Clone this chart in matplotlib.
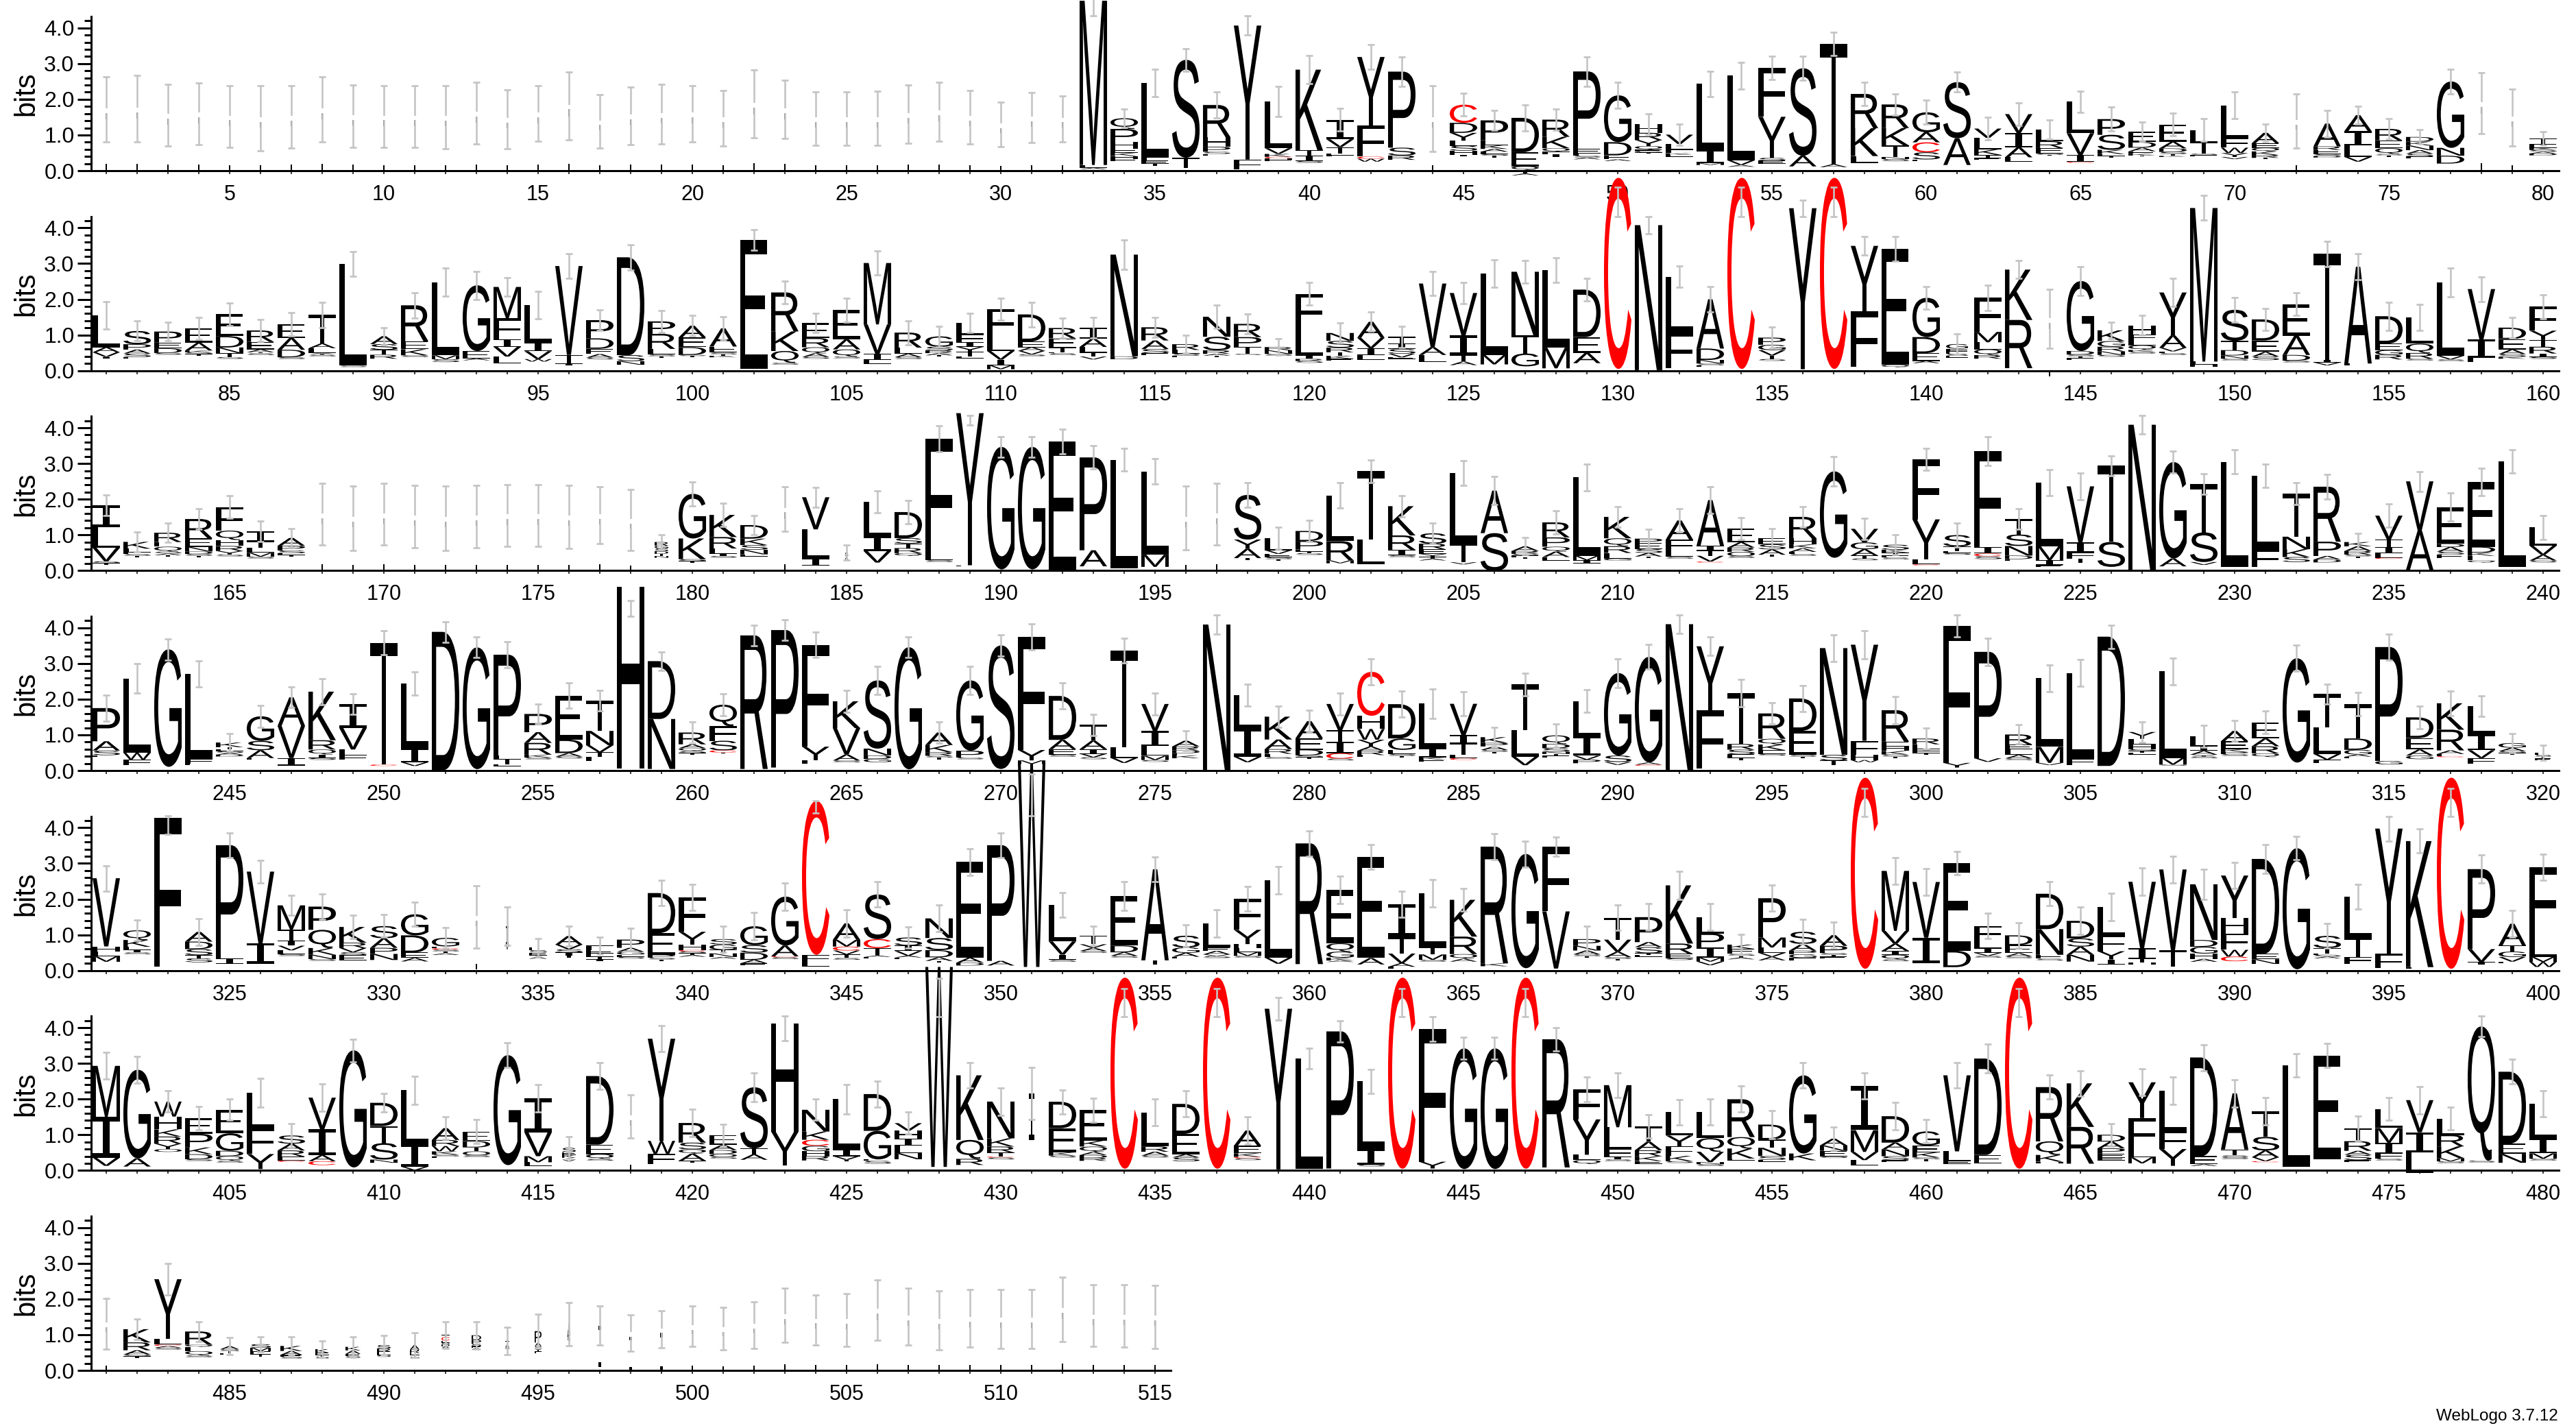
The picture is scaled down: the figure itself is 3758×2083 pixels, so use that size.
import matplotlib
matplotlib.use("Agg")
import matplotlib.pyplot as plt
from matplotlib.font_manager import FontProperties
from matplotlib.patches import PathPatch
from matplotlib.textpath import TextPath
from matplotlib.transforms import Affine2D

plt.rcParams["font.family"] = ["Liberation Sans", "DejaVu Sans"]

# ---------- data: letters top-down and their heights in bits, error-bar ends ----------
row1_letters = ["I"]*32 + [
 "MLA","QPHEKHE","LFET","ST","RHPSE","YF","LVKCHE","KTIS",
 "IVTEL","YFCW","PSR","I","CDYLSHI","PEKALST","DEQSTA","RKQFI","PEFSA","GDEA",
 "HRYQEST","VLFKE","LIM","LVA","FYSE","SA","TA","RKL","RKTNS","GACSE",
 "SA","VLKTE","VIAL","LREST","LVIC","PSKET","EDAEKT","EADSTK","LTSE","LFWYV",
 "AEQKRT","I","ARESD","AILV","REQST","DKNASE","GND","I","I","TEKSAD"]
row1_bits = [[1.62],[1.64],[1.45],[1.5],[1.42],[1.37],[1.4],[1.62],[1.42],[1.42],
 [1.42],[1.4],[1.51],[1.34],[1.5],[1.72],[1.28],[1.44],[1.48],[1.5],
 [1.37],[1.77],[1.62],[1.36],[1.36],[1.37],[1.48],[1.55],[1.4],[1.2],
 [1.39],[1.35],[4.6,.08,.04],[.30,.37,.18,.12,.09,.08,.07],[2.08,.1,.08,.06],[2.74,.29],[.9,.27,.14,.06,.05],[3.75,.28],[1.31,.16,.08,.04,.05,.03],[2.26,.15,.15,.05],
 [.55,.22,.18,.05,.03],[1.92,.87,.06,.08],[2.13,.22,.12],[1.36],[.51,.28,.22,.14,.14,.11,.05],[.56,.13,.11,.08,.06,.05,.05],[.96,.40,.1,.05,.05,.05],[.48,.32,.1,.06,.09],[2.17,.13,.06,.05,.05],[1.31,.37,.11,.05],
 [.24,.2,.17,.1,.05,.03,.03],[.26,.16,.1,.05,.05],[1.85,.37,.05],[2.37,.13,.05],[1.37,1.15,.08,.08],[2.45,.3],[3.37,.08],[.96,.78,.19],[.66,.49,.32,.06,.06],[.56,.28,.28,.2,.05],
 [1.57,.75],[.26,.32,.16,.08,.05],[.53,.4,.28,.13],[.33,.19,.15,.04,.03],[.88,.61,.19,.03],[.44,.42,.12,.05,.05],[.29,.16,.1,.07,.05,.03],[.48,.19,.1,.06,.05,.03],[.34,.32,.04,.04],[.92,.26,.15,.11,.06],
 [.29,.13,.1,.1,.08,.04],[1.29],[.64,.1,.12,.05,.04],[.45,.4,.32,.13],[.32,.22,.16,.04,.04],[.13,.11,.13,.1,.08,.05],[1.86,.22,.22],[1.79],[1.39],[.16,.1,.06,.05,.05,.05]]
row1_err_hi = [2.63,2.67,2.42,2.46,2.38,2.38,2.38,2.63,2.40,2.38,2.38,2.38,2.48,2.27,2.38,2.77,2.13,2.35,2.42,2.38,
 2.25,2.83,2.54,2.21,2.21,2.23,2.40,2.48,2.25,1.92,2.19,2.10,5.2,1.73,2.85,3.42,2.21,4.33,2.37,3.22,
 1.75,3.53,3.18,2.39,2.17,1.69,1.85,1.72,3.19,2.47,1.59,1.3,2.79,3.03,3.2,3.2,3.88,2.47,2.15,1.97,
 2.76,1.49,1.9,1.43,2.23,1.78,1.37,1.61,1.45,2.2,1.31,2.15,1.69,1.81,1.46,1.15,2.85,2.74,2.29,1.09]
row1_err_lo = [.81,.81,.69,.73,.65,.56,.63,.81,.65,.65,.65,.62,.75,.62,.83,.87,.63,.73,.75,.81,
 .69,.92,.90,.71,.71,.71,.77,.83,.75,.67,.79,.81,4.33,1.21,2.07,2.79,1.47,3.80,1.51,2.44,
 1.11,2.84,2.37,.53,1.53,1.13,1.11,1.14,2.37,1.75,1.01,.72,2.07,2.29,2.56,2.54,3.22,1.83,1.56,1.3,
 2.2,.87,1.27,.88,1.63,1.11,.82,.98,.82,1.45,.81,.63,.95,1.3,.88,.74,2.15,1.04,.69,.71]

row2_letters = ["LAVI","SPASE","PEDS","EAKST","EDNTS","REATS","EADS","TALYS","LS","ASTR",
 "REKS","LMS","GEA","MFIVL","LIVW","VTI","PDEAS","DSN","PRLST","AEDST",
 "AESTK","E","RKQS","ERQAS","EAQS","MVIL","RLAS","GSRAT","LFIYTL","FLVIM",
 "DEAVS","RETLS","IALTV","ND","RASE","RLSE","NSRAT","RPTS","RNS","FLIRS",
 "NSRTKE","AVIL","TISVE","VAL","VITA","LM","NTG","LM","DEA","C",
 "N","LF","ADNSE","C","PGVTS","Y","C","YF","EQ","GDEA",
 "GFESE","FMLQR","KR","I","GDSTE","KGRNS","HFLQKS","YAVFS","MLH","STDNS",
 "DEAS","EADS","TIV","AL","DEGR","LQRS","LVS","VIL","DEASK","FYTRIS"]
row2_bits = [[.9,.14,.13,.05],[.37,.15,.11,.1,.05],[.31,.16,.13,.05],[.4,.22,.05,.05,.05],[.61,.32,.16,.11,.05],[.32,.21,.08,.03,.05],[.38,.33,.21,.05],[.8,.13,.13,.05,.05],[2.85,.04],[.22,.16,.14,.11],
 [1.01,.22,.17,.05],[2.05,.11,.08],[1.84,.21,.05],[.88,.58,.22,.27,.19],[1.06,.24,.22,.07],[2.49,.24,.05],[.51,.29,.15,.1,.05],[2.74,.17,.1],[.35,.42,.16,.05,.05],[.33,.27,.22,.03,.03],
 [.51,.17,.05,.04,.04],[3.6],[1.09,.55,.33,.05],[.42,.26,.17,.1,.05],[.82,.28,.2,.05],[1.72,.83,.17,.11],[.42,.17,.1,.05],[.29,.1,.08,.06,.03],[.32,.22,.13,.14,.13,.05],[.76,.41,.24,.16,.11],
 [.76,.16,.1,.1,.05],[.29,.26,.13,.03,.05],[.3,.24,.16,.11,.08],[2.85,.08],[.37,.24,.12,.05],[.16,.1,.06,.05],[.56,.38,.1,.05,.05],[.37,.28,.19,.03],[.09,.1,.05],[.98,.74,.1,.06,.05],
 [.22,.19,.13,.1,.08,.05],[.45,.29,.19,.14],[.19,.15,.13,.1,.05],[1.78,.22,.19],[1.19,.54,.19,.1],[2.28,.26],[1.78,.51,.36],[2.18,.58],[1.33,.44,.29],[5.35],
 [4.06],[1.57,.98],[1.38,.32,.1,.05,.05],[5.35],[.2,.15,.15,.1,.05],[4.51],[5.35],[1.84,1.55],[3.25,.07],[1.1,.45,.22,.06],
 [.13,.07,.07,.06,.05],[.96,.29,.2,.16,.1],[1.41,1.35],[1.5],[1.96,.1,.05,.05,.05],[.3,.16,.13,.1,.05],[.26,.16,.14,.13,.05,.05],[1.2,.35,.1,.05,.05],[4.3,.08,.06],[.87,.26,.15,.09,.05],
 [.59,.32,.13,.1],[.88,.54,.16,.05],[2.96,.08,.08],[2.71,.05],[.77,.18,.13,.13],[.74,.26,.16,.05],[2.05,.1,.05],[1.41,.51,.13],[.32,.29,.13,.08,.05],[.67,.26,.19,.19,.1,.05]]
row2_err_hi = [1.94,1.39,1.36,1.49,1.9,1.44,1.62,1.92,3.33,1.21,2.19,2.88,2.78,2.61,2.23,3.28,1.71,3.53,1.69,1.55,
 1.51,3.94,2.5,1.6,2.03,3.35,1.4,1.25,1.6,2.02,1.92,1.48,1.49,3.67,1.49,.99,1.84,1.58,.89,2.47,
 1.33,1.64,1.24,2.78,2.48,3.1,3.08,3.17,2.59,5.14,4.32,2.93,2.35,5.14,1.23,4.78,5.14,3.76,3.76,2.35,
 1.03,2.4,3.08,2.27,2.92,1.36,1.54,2.58,4.9,2.05,1.74,2.18,3.63,3.27,1.92,1.86,2.87,2.63,1.5,2.12]
row2_err_lo = [1.17,.83,.83,.88,1.26,.81,.97,1.2,2.65,.72,1.47,2.08,2.0,2.08,1.46,2.58,1.12,2.82,1.07,.97,
 .86,3.38,1.88,1.07,1.36,2.68,.73,.67,1.07,1.42,1.23,.91,.92,2.83,.94,.49,1.18,1.04,.43,1.83,
 .78,1.1,.65,2.1,1.87,2.33,2.46,2.48,1.95,4.32,3.83,2.33,1.65,4.32,.62,4.32,4.32,3.23,3.07,1.73,
 .46,1.69,2.58,.62,2.1,.9,1.0,1.8,4.21,1.36,1.13,1.54,2.91,2.55,1.13,1.13,2.06,1.94,.91,1.46]

row3_letters = ["ILVST","KLEST","REQSAT","RENDST","FQHRYS","ITLMS","APSET","I","I","I",
 "I","I","I","I","I","I","I","I","RGSDTN","GKST",
 "KRLIS","DKSNE","I","VLI","SA","LIV","DSTRQ","FLS","YE","G",
 "G","E","PA","L","LM","I","I","SYAT","LVEST","DPETS",
 "LRM","TL","KRIS","SREYTA","LTV","AS","ARSET","RPQAE","LMI","KQRLG",
 "PESAT","AFLS","AITVC","EAROS","ESAT","RHKALS","G","VGATS","SKTES","FYLC",
 "STES","FICS","TSNDE","LMIE","VIFT","TS","N","GA","TSV","L",
 "LF","TNKS","RPAD","KARST","VTILC","VA","EDASE","EDKEQ","L","LVAS"]
row3_bits = [[.61,.58,.38,.05,.05],[.19,.1,.05,.05,.05],[.26,.13,.14,.05,.05,.04],[.54,.24,.13,.07,.05,.05],[.66,.26,.17,.14,.1,.05],[.28,.18,.14,.11,.05],[.22,.13,.08,.05,.05],[1.47],[1.37],[1.47],
 [1.42],[1.37],[1.42],[1.44],[1.44],[1.4],[1.45],[1.32],[.1,.08,.08,.07,.06,.05],[1.25,.58,.05,.05],
 [.62,.32,.15,.06,.05],[.38,.18,.13,.13,.06],[1.63],[.9,.82,.19],[.1,.1],[.96,.42,.32],[.73,.15,.13,.14,.08],[3.27,.13,.05],[4.26,.03],[3.43],
 [3.43],[3.63],[2.6,.45],[3.04],[2.33,.34],[1.37],[1.47],[1.25,.26,.26,.05],[.34,.1,.1,.05,.05],[.28,.24,.05,.05,.05],
 [1.28,.54,.08],[1.91,.69],[.82,.4,.16,.05],[.29,.16,.13,.08,.05,.05],[1.97,.53,.06],[1.19,1.06],[.13,.08,.05,.05,.03],[.42,.26,.14,.15,.1],[2.2,.12,.09],[.6,.22,.19,.16,.05],
 [.13,.16,.11,.1,.05],[.54,.32,.16,.05],[1.28,.13,.15,.16,.03],[.38,.15,.12,.12,.05],[.17,.14,.15,.05],[.6,.17,.11,.1,.06,.05],[2.42],[.38,.19,.18,.08,.05],[.14,.08,.08,.06,.05],[1.68,1.12,.14,.03],
 [.32,.13,.05,.05],[2.7,.17,.08,.08],[.43,.32,.27,.1,.05],[1.78,.4,.13,.05],[1.57,.28,.17,.12],[2.13,.7],[4.09],[2.7,.22],[1.35,.83,.08],[2.94],
 [2.07,.48],[1.21,.35,.22,.14],[1.54,.4,.1,.08],[.12,.13,.1,.05,.05],[.67,.22,.16,.13,.03],[1.38,1.1],[1.03,.09,.13,.08,.1],[1.81,.16,.09,.13,.06],[2.95],[.51,.26,.16,.05]]
row3_err_hi = [2.12,1.08,1.33,1.74,2.1,1.38,1.17,2.44,2.37,2.44,2.39,2.37,2.39,2.41,2.41,2.39,2.35,2.28,1.0,2.49,
 1.88,1.54,2.35,2.33,.72,2.23,1.96,4.06,4.35,3.75,3.75,3.96,3.5,3.42,3.13,2.37,2.44,2.47,1.22,1.4,
 2.46,3.1,2.1,1.33,3.08,2.63,.92,1.67,2.99,1.8,1.15,1.73,2.35,1.48,1.17,1.8,3.19,1.46,1.01,3.42,
 1.33,3.75,1.73,2.83,2.73,3.22,4.35,3.34,2.71,3.38,2.98,2.47,2.69,1.04,1.87,2.78,2.18,2.86,3.38,1.54]
row3_err_lo = [1.54,.53,.79,1.15,1.46,.82,.66,.71,.56,.71,.64,.56,.64,.68,.68,.62,.76,.56,.6,1.81,
 1.24,1.01,1.11,1.78,.29,1.62,1.32,3.32,4.08,3.18,3.18,3.27,2.84,2.79,2.42,.58,.71,1.77,.6,.82,
 1.75,2.47,1.51,.76,2.39,1.85,.44,1.03,2.23,1.21,.64,1.08,1.6,.87,.64,1.21,2.37,.88,.44,2.81,
 .66,2.95,1.15,2.1,1.99,2.65,3.82,2.74,2.13,2.71,2.33,1.85,2.01,.56,1.21,2.22,1.38,2.09,2.74,.88]

row4_letters = ["PASE","LWF","G","LFE","KTESAD","GSAE","AVI","KRQIS","IVLF","TC",
 "LIV","D","G","PLTE","PARKS","EDAS","TNVTL","H","DN","RAQST",
 "QFSCT","R","P","FYL","KVAS","SNDG","G","AKRST","GPS","S",
 "FYM","DAES","TAIVS","TLV","VILMS","ARDEK","N","LIV","KARLS","AEDST",
 "VTICS","CHWYARL","DGEST","LIKE","VITLC","KPAST","TLV","QDSNTE","LIVP","GSV",
 "GAC","N","YF","TRSET","RQKES","DEST","NST","YFHW","REHKST","REEET",
 "FY","PV","RELAS","LMV","LF","D","YLHSTE","LMS","LIAYS","AEKPS",
 "EARQ","G","TLVF","TDGAE","PG","DEAG","KRAEC","LIVF","GAST","LSTE"]
row4_bits = [[.93,.26,.13,.05],[2.08,.19,.16],[3.29],[2.39,.12,.05],[.13,.06,.05,.05,.05,.05],[.69,.26,.22,.05],[.8,.9,.21],[1.36,.26,.14,.1,.05],[.67,.6,.16,.13],[3.41,.04],
 [1.81,.4,.1],[3.87],[3.41],[2.83,.1,.14,.05],[.51,.3,.33,.08,.05],[1.23,.38,.1,.05],[.85,.4,.2,.13,.12],[5.1],[1.62,1.4],[.33,.11,.08,.05,.05],
 [.6,.41,.27,.06,.03],[3.74],[3.85],[2.85,.38,.1],[.75,.74,.17,.05],[1.91,.19,.1,.09],[3.42],[.35,.2,.1,.05,.05],[1.97,.19,.05],[3.46],
 [3.17,.29,.1],[1.23,.26,.16,.05],[.44,.24,.13,.1,.05],[2.71,.3,.14],[.76,.42,.27,.12,.05],[.16,.11,.08,.06,.08],[4.09],[.93,.8,.15],[.64,.27,.13,.09,.05],[.48,.32,.16,.05,.05],
 [.74,.32,.32,.15,.05],[1.23,.37,.3,.19,.12,.12,.05],[.96,.32,.12,.05,.05],[1.25,.26,.06,.06],[.88,.22,.32,.1,.05],[.16,.1,.1,.05,.05],[1.28,.74,.24],[.24,.12,.1,.06,.05,.05],[.99,.54,.11,.1],[2.31,.18,.08],
 [2.96,.06,.03],[4.09],[1.79,1.63],[1.42,.16,.13,.11,.05],[.71,.16,.16,.1,.05],[.91,.67,.05,.05],[2.99,.16,.12],[2.69,.4,.14,.06],[.88,.13,.13,.1,.06,.05],[.16,.13,.06,.06,.05],
 [3.83,.13],[2.98,.1],[.28,.13,.16,.1,.05],[1.92,.45,.06],[2.4,.19],[3.62],[.19,.16,.13,.05,.05,.05],[2.42,.19,.03],[.28,.13,.11,.05,.05],[.29,.22,.08,.06,.05],
 [.45,.22,.2,.1],[2.92],[.93,.75,.16,.1],[.96,.32,.13,.06,.05],[3.19,.1],[.58,.32,.17,.1],[.74,.58,.1,.06,.03],[.78,.45,.22,.16],[.13,.1,.05,.05],[.06,.05,.05,.05]]
row4_err_hi = [2.12,2.99,3.69,3.08,1.04,1.83,2.34,2.57,2.15,3.92,2.76,4.17,3.74,3.61,1.86,2.46,2.25,4.77,3.32,1.37,
 2.15,4.08,4.23,3.88,2.25,2.92,3.75,1.37,2.92,3.8,4.11,2.46,1.58,3.71,2.17,1.11,4.35,2.42,1.81,1.69,
 2.17,3.13,2.23,2.29,2.21,1.21,2.72,1.31,2.26,3.13,3.53,4.35,3.74,2.55,1.9,2.39,3.8,3.92,2.08,1.19,
 4.35,3.71,1.28,2.96,3.11,4.08,1.37,3.15,1.27,1.4,1.67,3.51,2.42,2.19,3.82,1.81,2.23,2.09,1.04,.72]
row4_err_lo = [1.38,2.17,3.1,2.34,.53,1.21,1.76,1.85,1.57,3.24,2.12,3.6,3.16,2.88,1.31,1.74,1.67,4.33,2.81,.76,
 1.54,3.49,3.64,3.16,1.63,2.13,3.16,.76,2.13,3.21,3.38,1.72,.98,3.02,1.56,.56,3.83,1.81,1.21,1.08,
 1.56,2.4,1.49,1.46,1.53,.66,2.1,.66,1.63,2.33,2.84,3.85,3.22,1.78,1.3,1.65,3.06,3.13,1.3,.6,
 3.74,2.94,.74,2.21,2.36,3.42,.79,2.4,.66,.82,1.03,2.78,1.87,1.53,3.1,1.17,1.54,1.51,.5,.28]

row5_letters = ["VHLM","QKLIS","F","ADSTS","PI","VI","MTIVLS","PQKNS","KRVSE","SAPN",
 "GDEA","GECSTA","I","IV","ESETA","AVSIT","FEETI","PAGES","DEPST","FYHCSTA",
 "SGTNA","GSDAE","GACS","CFL","AMCVTS","SCTAE","SIVAE","NSDAT","EAD","PA",
 "W","LVIS","TVAS","EDAS","AT","SGAE","LEAVS","FYHLMS","LV","R",
 "EQGKA","EA","ITVAL","LTMS","KRQA","RK","G","FV","PNAST","TVAST",
 "PASTE","KRES","LPIMV","KESTA","PMLVA","SAPGE","APSTE","C","MVAIQS","VI",
 "ED","FLIVS","DEAS","DNES","DSAN","LFYI","VITH","VT","NDGHA","YHFWC",
 "DEN","G","STESA","LTF","YF","KL","C","PVI","ATGVE","FLMW"]
row5_bits = [[1.91,.15,.13,.15],[.27,.19,.08,.08,.05],[4.18],[.27,.21,.17,.09,.11],[3.18,.14],[2.01,.57],[.68,.3,.15,.13,.11,.05],[.65,.51,.19,.12,.05],[.44,.15,.12,.08,.15],[.34,.27,.17,.17],
 [.59,.48,.15,.1],[.24,.05,.04,.05,.05,.05],[1.37],[.5,.15],[.08,.07,.07,.05,.05],[.24,.13,.09,.09,.05],[.12,.1,.08,.08,.05],[.23,.11,.08,.06,.05],[1.12,.61,.08,.05,.05],[.97,.36,.15,.04,.05,.05,.05],
 [.15,.15,.1,.1,.05],[.53,.21,.2,.1,.05],[1.37,.3,.03,.05],[4.31,.2,.13],[.46,.19,.11,.11,.1,.05],[1.25,.25,.21,.04,.04],[.23,.15,.13,.05,.05],[.55,.34,.2,.1,.05],[2.68,.14,.08],[3.24,.13],
 [5.7],[1.03,.37,.15,.05],[.24,.1,.09,.05],[1.39,.19,.1,.05],[2.55,.11],[.33,.15,.11,.05],[.68,.09,.1,.05,.05],[.87,.4,.11,.11,.11,.05],[2.17,.17],[3.38],
 [1.5,.23,.17,.08,.04],[2.83,.18],[.93,.46,.27,.1,.05],[1.5,.21,.15,.05],[1.03,.49,.13,.08],[3.27,.08],[3.2],[1.81,1.6],[.19,.13,.11,.05,.05],[.61,.34,.15,.05,.05],
 [.7,.14,.17,.05,.05],[1.63,.29,.12,.05],[.46,.4,.28,.11,.1],[.12,.14,.05,.05,.05],[1.1,.28,.15,.11,.1],[.34,.19,.1,.1,.08],[.3,.2,.05,.05,.05],[5.35],[1.68,.36,.2,.11,.13,.05],[1.56,.71],
 [2.45,.46],[.43,.19,.14,.08,.05],[.27,.23,.09,.05],[.99,.72,.11,.05],[.49,.23,.23,.19],[.8,.44,.23,.15],[1.86,.3,.11,.05],[2.26,.46],[1.56,.19,.19,.15,.08],[1.19,.43,.46,.19,.13],
 [2.66,.15,.13],[3.39],[.34,.15,.04,.05,.05],[1.16,.53,.19],[3.51,.4],[3.53,.05],[5.35],[2.24,.36,.08],[.61,.17,.15,.13,.05],[1.92,.59,.14,.14]]
row5_err_hi = [2.94,1.41,4.33,1.45,3.86,3.09,2.11,2.15,1.54,1.56,1.91,1.2,2.38,1.77,.9,1.24,.93,1.18,2.53,2.42,
 1.24,1.62,2.45,4.75,1.71,2.49,1.22,1.83,3.42,3.86,5.5,2.19,1.24,2.49,3.18,1.28,1.71,2.36,2.91,3.92,
 2.64,3.53,2.23,2.55,2.3,3.84,3.63,3.73,1.24,1.83,1.87,2.77,1.88,1.01,2.39,1.43,1.35,5.11,3.16,2.85,
 3.33,1.6,1.34,2.49,1.77,2.17,2.87,3.21,2.83,3.02,3.53,3.75,1.31,2.42,4.32,3.96,5.11,3.23,1.69,3.25]
row5_err_lo = [2.23,.84,3.82,.71,3.16,2.45,1.54,1.43,.9,.93,1.24,.63,.63,.71,.4,.69,.46,.55,1.81,1.69,
 .52,.86,1.69,4.41,.93,1.77,.63,1.09,2.66,3.16,4.33,1.5,.71,1.69,2.49,.67,.93,1.66,2.15,3.2,
 1.88,2.83,1.5,1.77,1.66,3.1,2.9,3.2,.52,1.12,1.12,2.0,1.12,.44,1.66,.74,.63,4.32,2.42,2.11,
 2.68,.9,.63,1.81,1.01,1.39,2.1,2.45,2.0,2.3,2.72,3.1,.63,1.73,3.63,3.29,4.32,2.45,.93,2.53]

row6_letters = ["MIV","GA","WHKRYO","EPKDS","EGDQS","LFY","SAREC","VIAC","G","DTSN",
 "LIV","ARWKSE","EDTOS","G","IVML","SEKTV","DEQS","I","YWF","RSQAT",
 "EADOS","STA","HY","NKCGHR","LIVT","DGES","VHILN","W","KQR","NKRTCS",
 "I","DEKS","EKQADR","C","LRAS","DEAS","C","AEKCS","Y","L",
 "P","LIS","C","FY","G","G","C","R","FYLQ","MLFIS",
 "TARKE","LYFKS","LQVNS","RQKE","DTNSE","GK","ANES","IMVL","DANSE","GEKST",
 "VLE","DE","C","RQKH","KR","DAPEE","YFLM","LFY","DEA","ATSS",
 "TSAVC","L","E","TRASE","LMIFS","VIL","LRKMS","QS","DEN","LIMS"]
row6_bits = [[1.43,1.14,.23],[2.48,.23],[.42,.36,.2,.2,.15,.08],[.44,.38,.19,.14,.05],[.66,.49,.15,.13,.05],[1.0,.72,.42],[.23,.19,.17,.11,.04],[.89,.72,.17,.11],[3.28],[.65,.48,.46,.09],
 [1.52,.62,.1],[.33,.17,.15,.09,.05,.05],[.26,.18,.11,.11,.05],[3.08],[.95,.67,.17,.11],[.12,.08,.08,.05,.05],[1.92,.27,.13,.05],[1.4],[2.86,.36,.29],[.55,.19,.12,.2,.05],
 [.27,.15,.11,.08,.05],[1.71,.17,.15],[3.02,.95],[.61,.23,.17,.15,.14,.12],[1.41,.19,.1,.05],[1.03,.8,.04,.08],[.21,.23,.19,.21,.17],[5.6],[1.81,.53,.17],[1.03,.23,.17,.11,.03,.05],
 [1.3],[.74,.68,.09,.05],[.85,.17,.15,.09,.08,.08],[5.35],[.95,.15,.11,.05],[.84,.57,.09,.11],[5.35],[.43,.21,.1,.04,.05],[4.5],[3.09],
 [3.84],[1.9,.43,.05],[5.35],[3.72,.19],[3.38],[3.38],[5.35],[3.59],[.84,.99,.15,.11],[1.18,.61,.21,.08,.05],
 [.43,.24,.17,.13,.08],[.65,.3,.27,.15,.05],[.74,.38,.29,.06,.05],[1.06,.32,.28,.05],[.42,.23,.23,.11,.05],[2.19,.19],[.19,.15,.15,.05],[1.24,.61,.23,.14],[.74,.19,.19,.11,.05],[.4,.19,.14,.05,.05],
 [2.13,.27,.08],[2.7,.24],[5.35],[1.52,.38,.19,.05],[1.22,1.03],[.19,.19,.15,.11,.08],[1.0,.87,.23,.17],[1.14,.49,.47],[2.76,.23,.05],[1.57,.17,.05,.05],
 [.72,.38,.19,.11,.03],[2.83],[2.91],[.36,.27,.11,.15,.05],[.53,.42,.29,.15,.05],[.9,.57,.57],[.46,.32,.33,.09,.05],[3.76,.05],[2.01,.29,.25],[.97,.42,.15,.05]]
row6_err_hi = [3.3,3.2,2.23,1.8,2.0,2.58,1.32,2.42,3.68,2.16,2.64,1.5,1.42,3.58,2.41,.94,3.02,2.12,4.06,1.72,
 1.3,2.73,4.32,2.0,2.41,2.5,1.63,5.38,3.02,2.31,2.88,2.26,2.03,5.1,2.0,2.23,5.1,1.5,4.85,3.43,
 4.19,2.83,5.1,4.31,3.73,3.73,5.1,4.0,2.61,2.74,1.57,1.98,2.01,2.36,1.68,3.02,1.22,2.74,1.91,1.42,
 3.02,3.54,5.1,2.67,2.8,1.32,2.84,2.61,3.53,2.54,2.04,3.27,3.56,1.53,2.04,2.35,1.78,4.32,3.11,2.23]
row6_err_lo = [2.56,2.44,1.63,1.13,1.4,1.78,.64,1.66,3.05,1.63,1.85,.87,.75,2.88,1.63,.33,2.27,.9,3.32,.94,
 .68,1.93,3.64,1.4,1.59,1.78,1.02,4.3,2.31,1.55,1.42,1.59,1.35,4.3,1.25,1.5,4.3,.74,4.21,2.84,
 3.6,2.16,4.3,3.62,3.11,3.11,4.3,3.35,1.93,2.04,.9,1.28,1.28,1.63,.89,2.31,.56,2.0,1.13,.77,
 2.31,2.73,4.3,2.0,2.08,.68,2.1,1.85,2.8,1.78,1.28,2.61,2.88,.83,1.4,1.59,1.13,3.75,2.42,1.51]

row7_letters = ["I","KRAST","YLCAS","RQFQS","ASTE","SMET","KAES","KETS","KAES","SRES",
 "ARETS","TCESDA","DPSEA","TAST","PASTE","AEG","I","I","I","I",
 "I","I","I","I","I","I","I","I","I","I",
 "I","I","I","I","I"]
row7_bits = [[1.2],[.37,.22,.12,.05,.05],[1.67,.16,.04,.05,.05],[.37,.06,.12,.12,.05],[.09,.05,.05,.05],[.1,.1,.08,.08],[.14,.11,.05,.05],[.1,.06,.05,.05],[.1,.1,.06,.05],[.1,.08,.1,.05],
 [.13,.1,.05,.05,.05],[.06,.1,.06,.05,.05,.05],[.13,.11,.06,.05,.05],[.1,.08,.05,.05],[.32,.1,.1,.05,.05],[.3,.08,.08],[1.15],[.95],[1.05],[1.14],
 [1.08],[1.17],[1.44],[1.32],[1.31],[1.59],[1.41],[1.3],[1.36],[1.35],
 [1.35],[1.61],[1.44],[1.43],[1.4]]
row7_err_hi = [2.01,1.44,2.99,1.37,.92,.95,.95,.83,.95,.98,1.06,1.37,1.37,1.21,1.57,1.9,1.8,1.56,1.67,1.81,
 1.77,1.93,2.31,2.12,2.15,2.54,2.31,2.23,2.27,2.27,2.27,2.62,2.4,2.4,2.38]
row7_err_lo = [.6,.87,2.12,.81,.44,.52,.42,.36,.37,.44,.37,.62,.6,.44,.63,.69,.71,.53,.63,.67,
 .58,.62,.78,.72,.67,.84,.71,.58,.65,.62,.62,.81,.67,.65,.62]

# stacks whose height differs from the centre of their error bar
stack_top = {33:4.76,130:5.4,134:5.4,137:5.4,189:4.41,258:5.15,323:4.28,344:4.75,351:5.8,378:5.4,397:5.4,
             423:4.11,428:5.7,434:5.4,437:5.4,443:5.4,447:5.4,463:5.4}
# stacks narrowed by gaps in the alignment (fraction of a full column)
stack_width = {**{p:.04 for p in range(1,33)},44:.04,72:.04,78:.06,79:.04,141:.8,144:.04,
               **{p:.04 for p in range(168,179)},179:.5,183:.05,185:.12,196:.03,197:.03,320:.6,
               333:.04,334:.12,335:.65,416:.5,418:.06,431:.2,
               481:.06,485:.7,486:.75,487:.8,488:.5,489:.55,490:.5,491:.35,492:.3,493:.35,494:.15,495:.25,
               496:.1,497:.1,498:.08,499:.08,500:.06,501:.05,**{p:.04 for p in range(502,516)}}
rows = [(1,row1_letters,row1_bits,row1_err_hi,row1_err_lo),
        (81,row2_letters,row2_bits,row2_err_hi,row2_err_lo),
        (161,row3_letters,row3_bits,row3_err_hi,row3_err_lo),
        (241,row4_letters,row4_bits,row4_err_hi,row4_err_lo),
        (321,row5_letters,row5_bits,row5_err_hi,row5_err_lo),
        (401,row6_letters,row6_bits,row6_err_hi,row6_err_lo),
        (481,row7_letters,row7_bits,row7_err_hi,row7_err_lo)]

# ---------- drawing ----------
W, H = 3758, 2083
PX = 72/100
fig = plt.figure(figsize=(W/100, H/100), dpi=100, facecolor="white")
FP = FontProperties(family="Liberation Sans")
FP_I = FontProperties(family="DejaVu Sans Mono")
glyphs = {}
def glyph(ch):
    if ch not in glyphs:
        p = TextPath((0, 0), ch, size=10, prop=FP_I if ch == "I" else FP)
        glyphs[ch] = (p, p.get_extents())
    return glyphs[ch]

COL_W = 45.0
AX_H = 4.32*52.08
for i, (first, letters, bits, hi, lo) in enumerate(rows):
    n = len(letters)
    assert n == len(bits) == len(hi) == len(lo), (first, len(letters), len(bits), len(hi), len(lo))
    base = 249 + i*291.67
    ax = fig.add_axes([132.5/W, 1-base/H, n*COL_W/W, AX_H/H])
    ax.patch.set_visible(False)
    ax.set_xlim(first-.5, first+n-.5)
    ax.set_ylim(0, 4.32)
    for s in ("top", "right"):
        ax.spines[s].set_visible(False)
    ax.spines["left"].set_linewidth(3*PX)
    ax.spines["bottom"].set_linewidth(3*PX)
    ax.spines["left"].set_zorder(1)
    xs = list(range(first, first+n))
    for pos, ls, bs, h, l in zip(xs, letters, bits, hi, lo):
        c = (h+l)/2
        wf = stack_width.get(pos, 1.0)
        y = stack_top.get(pos, c)
        if wf < .1:
            y -= .1
        w = .89*wf
        for ch, b in zip(ls, bs):
            p, e = glyph(ch)
            tr = (Affine2D().translate(-e.x0, -e.y0).scale(w/e.width, b/e.height)
                  .translate(pos-w/2, y-b))
            ax.add_patch(PathPatch(p.transformed(tr), fc="red" if ch == "C" else "black",
                                   ec="none", lw=0, clip_on=False, zorder=2))
            y -= b
        if wf < .1:
            # error bar lower arm stops short so the black stem shows beneath it
            pass
        ax.errorbar([pos], [c], yerr=[[c-l], [h-c]], ecolor="#c4c4c4", elinewidth=2.6*PX,
                    capsize=5*PX, capthick=2.7*PX, fmt="none", zorder=3, clip_on=False)
        if wf < .1:
            ax.plot([pos, pos], [c-.1, c+.03], color="white", lw=4*PX, zorder=4, clip_on=False,
                    solid_capstyle="butt")
    ax.set_xticks([p for p in xs if p % 5 == 0])
    ax.set_xticks(xs, minor=True)
    ax.tick_params(axis="x", which="both", length=5*PX, width=1.5*PX)
    ax.tick_params(axis="x", which="major", labelsize=22, pad=15*PX)
    ax.set_yticks([0, 1, 2, 3, 4])
    ax.set_yticklabels(["0.0", "1.0", "2.0", "3.0", "4.0"])
    ax.set_yticks([k/5 for k in range(22) if k % 5], minor=True)
    ax.tick_params(axis="y", which="major", length=20*PX, width=3*PX, labelsize=23, pad=4*PX)
    ax.tick_params(axis="y", which="minor", length=10*PX, width=3*PX)
    fig.text(38/W, 1-(base-112)/H, "bits", rotation=90, ha="center", va="center", fontsize=30)

fig.text(3732/W, 1-2072/H, "WebLogo 3.7.12", ha="right", va="baseline", fontsize=17.5)
fig.savefig("out.png", dpi=100)
